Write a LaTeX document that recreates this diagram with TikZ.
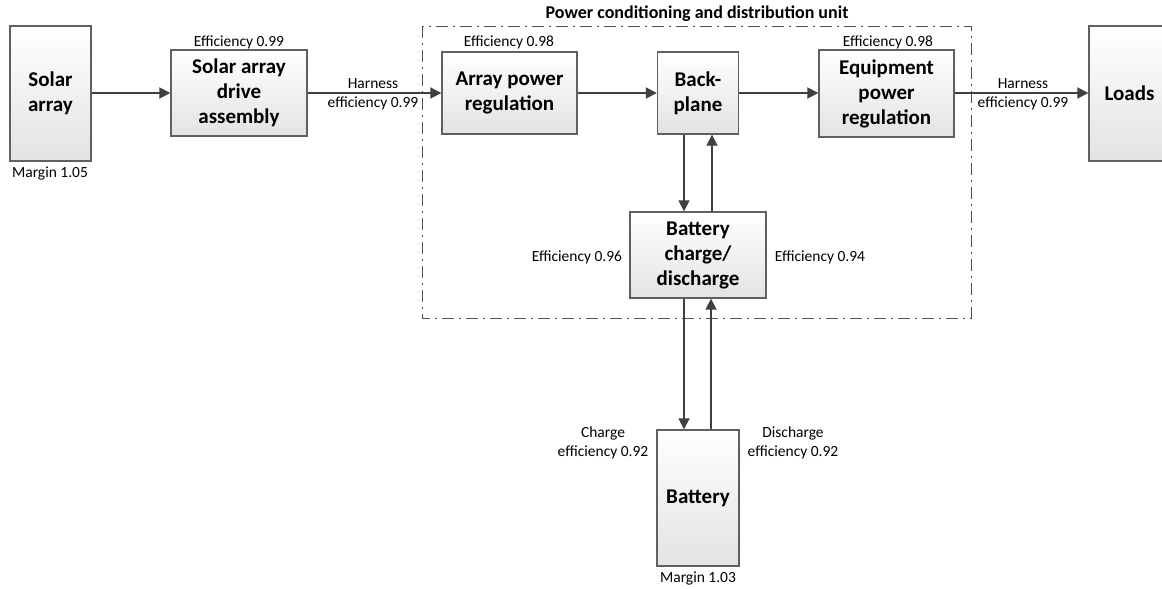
\documentclass[tikz,border=0pt]{standalone}
\usepackage{fontspec}
\setmainfont{Carlito}
\usetikzlibrary{arrows.meta}
\definecolor{boxline}{HTML}{606060}
\definecolor{arrowc}{HTML}{404040}
\definecolor{dashc}{HTML}{505050}
\tikzset{
  box/.style={draw=boxline, line width=1.4pt, top color=white, bottom color=black!11,
    inner sep=0pt, align=center, font=\fontsize{21}{25}\selectfont\bfseries},
  lbl/.style={inner sep=0pt, align=center, font=\fontsize{15.5}{18.5}\selectfont},
  flow/.style={draw=arrowc, line width=1.8pt, -{Triangle[length=11pt,width=11pt]}},
  unitbox/.style={draw=dashc, line width=1pt, dash pattern=on 12pt off 5pt on 2pt off 5pt}
}
\begin{document}
\begin{tikzpicture}[x=1pt,y=-1pt]
\clip (0,0) rectangle (1162,589);
\fill[white] (0,0) rectangle (1162,589);
% unit boundary
\draw[unitbox] (422,26) rectangle (971,318);
\node[lbl, font=\fontsize{18}{21}\selectfont\bfseries] (title) at (697,14) {Power conditioning and distribution unit};
% boxes
\node[box, minimum width=81pt, minimum height=135pt] (solar) at (50.5,93.5) {Solar\\array};
\node[box, minimum width=136pt, minimum height=86pt] (sada) at (239,93) {Solar array\\drive\\assembly};
\node[box, minimum width=135pt, minimum height=82pt] (apr) at (509.5,93) {Array power\\regulation};
\node[box, minimum width=81pt, minimum height=82pt] (bp) at (698,93) {Back-\\plane};
\node[box, minimum width=135pt, minimum height=87pt] (epr) at (886.5,93.5) {Equipment\\power\\regulation};
\node[box, minimum width=81pt, minimum height=135pt] (loads) at (1129.5,93.5) {Loads};
\node[box, minimum width=136pt, minimum height=86pt] (bcd) at (698,255) {Battery\\charge/\\discharge};
\node[box, minimum width=82pt, minimum height=136pt] (batt) at (698,498) {Battery};
% labels
\node[lbl] (m1) at (50,173) {Margin 1.05};
\node[lbl] (e1) at (239,42) {Efficiency 0.99};
\node[lbl] (h1) at (373,94.5) {Harness\\efficiency 0.99};
\node[lbl] (e2) at (509,42) {Efficiency 0.98};
\node[lbl] (e3) at (888,42) {Efficiency 0.98};
\node[lbl] (h2) at (1023,94.5) {Harness\\efficiency 0.99};
\node[lbl] (e4) at (577,257) {Efficiency 0.96};
\node[lbl] (e5) at (820,257) {Efficiency 0.94};
\node[lbl] (c1) at (603,443) {Charge\\efficiency 0.92};
\node[lbl] (d1) at (793,443) {Discharge\\efficiency 0.92};
\node[lbl] (m2) at (698,578) {Margin 1.03};
% connectors
\draw[flow] (solar.east |- sada.west) -- (sada.west);
\draw[flow] (sada.east) -- (apr.west);
\draw[flow] (apr.east) -- (bp.west);
\draw[flow] (bp.east) -- (epr.west |- bp.east);
\draw[flow] (epr.east |- bp.east) -- (loads.west |- bp.east);
\draw[flow] ([xshift=-14pt]bp.south) -- ([xshift=-14pt]bp.south |- bcd.north);
\draw[flow] ([xshift=14pt]bp.south |- bcd.north) -- ([xshift=14pt]bp.south);
\draw[flow] ([xshift=-14pt]bcd.south) -- ([xshift=-14pt]bcd.south |- batt.north);
\draw[flow] ([xshift=13pt]bcd.south |- batt.north) -- ([xshift=13pt]bcd.south);
\end{tikzpicture}
\end{document}
